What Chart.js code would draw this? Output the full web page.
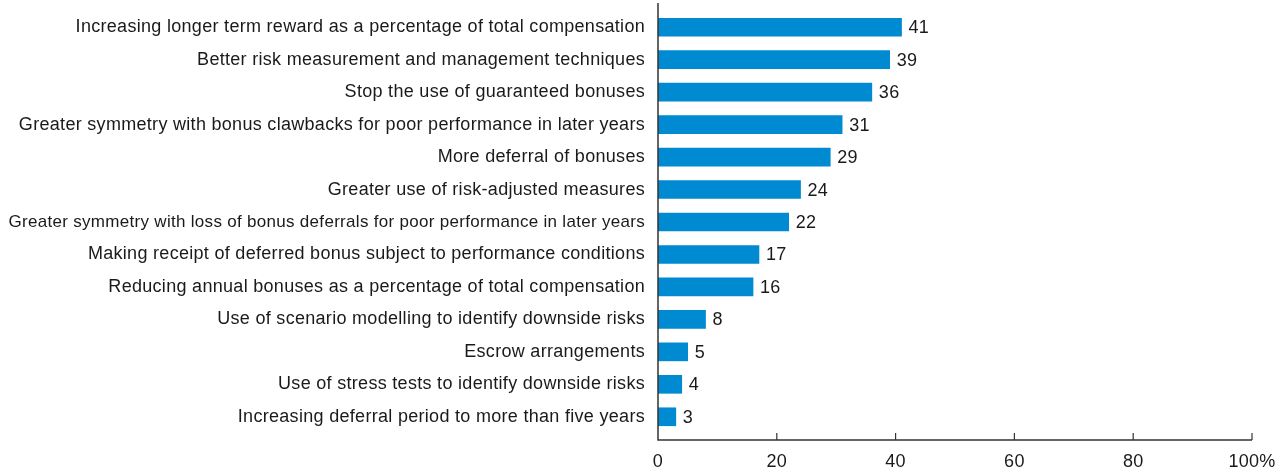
<!DOCTYPE html>
<html>
<head>
<meta charset="utf-8">
<script src="https://cdn.jsdelivr.net/npm/chart.js@4/dist/chart.umd.min.js"></script>
<style>
  body { margin: 0; background: #fff; }
  #wrap { width: 1281px; height: 470px; }
</style>
</head>
<body>
<div id="wrap"><canvas id="chart"></canvas></div>
<script>
const categories = [
  'Increasing longer term reward as a percentage of total compensation',
  'Better risk measurement and management techniques',
  'Stop the use of guaranteed bonuses',
  'Greater symmetry with bonus clawbacks for poor performance in later years',
  'More deferral of bonuses',
  'Greater use of risk-adjusted measures',
  'Greater symmetry with loss of bonus deferrals for poor performance in later years',
  'Making receipt of deferred bonus subject to performance conditions',
  'Reducing annual bonuses as a percentage of total compensation',
  'Use of scenario modelling to identify downside risks',
  'Escrow arrangements',
  'Use of stress tests to identify downside risks',
  'Increasing deferral period to more than five years'
]
const values = [41, 39, 36, 31, 29, 24, 22, 17, 16, 8, 5, 4, 3]
const xTicks = [0, 20, 40, 60, 80, 100]

const FONT = 'Liberation Sans, Arial, Helvetica, sans-serif'
const TEXT = '#1a1a1a'
const AXIS = '#333'

// slightly looser tracking for all text (canvas resets this on resize)
const tracking = {
  id: 'tracking',
  beforeLayout(chart) { chart.ctx.letterSpacing = '0.3px' },
  beforeDraw(chart) { chart.ctx.letterSpacing = '0.3px' }
}

// axis lines sit a few px outside the bar band, ticks point inward
const axisLines = {
  id: 'axisLines',
  afterDraw(chart) {
    const ctx = chart.ctx
    const x = chart.scales.x
    const area = chart.chartArea
    const x0 = x.getPixelForValue(0)
    const yb = area.bottom + 7
    ctx.save()
    ctx.strokeStyle = AXIS
    ctx.lineWidth = 1.5
    ctx.beginPath()
    ctx.moveTo(x0, area.top - 8)
    ctx.lineTo(x0, yb)
    ctx.lineTo(x.getPixelForValue(100), yb)
    ctx.stroke()
    ctx.lineWidth = 1.2
    xTicks.slice(1).forEach(v => {
      const px = x.getPixelForValue(v)
      ctx.beginPath()
      ctx.moveTo(px, yb)
      ctx.lineTo(px, yb - 7)
      ctx.stroke()
    })
    ctx.restore()
  }
}

// value printed just past the end of each bar
const valueLabels = {
  id: 'valueLabels',
  afterDatasetsDraw(chart) {
    const ctx = chart.ctx
    const meta = chart.getDatasetMeta(0)
    ctx.save()
    ctx.font = '18px ' + FONT
    ctx.fillStyle = TEXT
    ctx.textAlign = 'left'
    ctx.textBaseline = 'middle'
    meta.data.forEach((bar, i) => {
      ctx.fillText(String(values[i]), bar.x + 7, bar.y + 1)
    })
    ctx.restore()
  }
}

new Chart(document.getElementById('chart').getContext('2d'), {
  type: 'bar',
  data: {
    labels: categories,
    datasets: [{
      data: values,
      backgroundColor: '#008ad2',
      barThickness: 18
    }]
  },
  options: {
    indexAxis: 'y',
    responsive: true,
    maintainAspectRatio: false,
    animation: false,
    layout: { padding: { top: 11, right: 29, bottom: 0, left: 0 } },
    plugins: { legend: { display: false }, tooltip: { enabled: false } },
    scales: {
      x: {
        min: 0,
        max: 100,
        afterBuildTicks(scale) { scale.ticks = xTicks.map(v => ({ value: v })) },
        afterFit(scale) {
          scale.height = 37
          scale.paddingLeft = 0
          scale.paddingRight = 0
        },
        grid: { display: false, drawTicks: false },
        border: { display: false },
        ticks: {
          padding: 18,
          color: TEXT,
          font: { size: 18, family: FONT },
          maxRotation: 0,
          callback: v => v === 100 ? '100%' : v
        }
      },
      y: {
        afterFit(scale) {
          scale.width = 658
          scale.paddingTop = 0
          scale.paddingBottom = 0
        },
        grid: { display: false, drawTicks: false },
        border: { display: false },
        ticks: {
          padding: 13,
          color: TEXT,
          autoSkip: false,
          // the longest label is set a touch smaller so it fits the margin
          font: c => ({ size: c.index === 6 ? 17 : 18, family: FONT })
        }
      }
    }
  },
  plugins: [tracking, axisLines, valueLabels]
})
</script>
</body>
</html>
